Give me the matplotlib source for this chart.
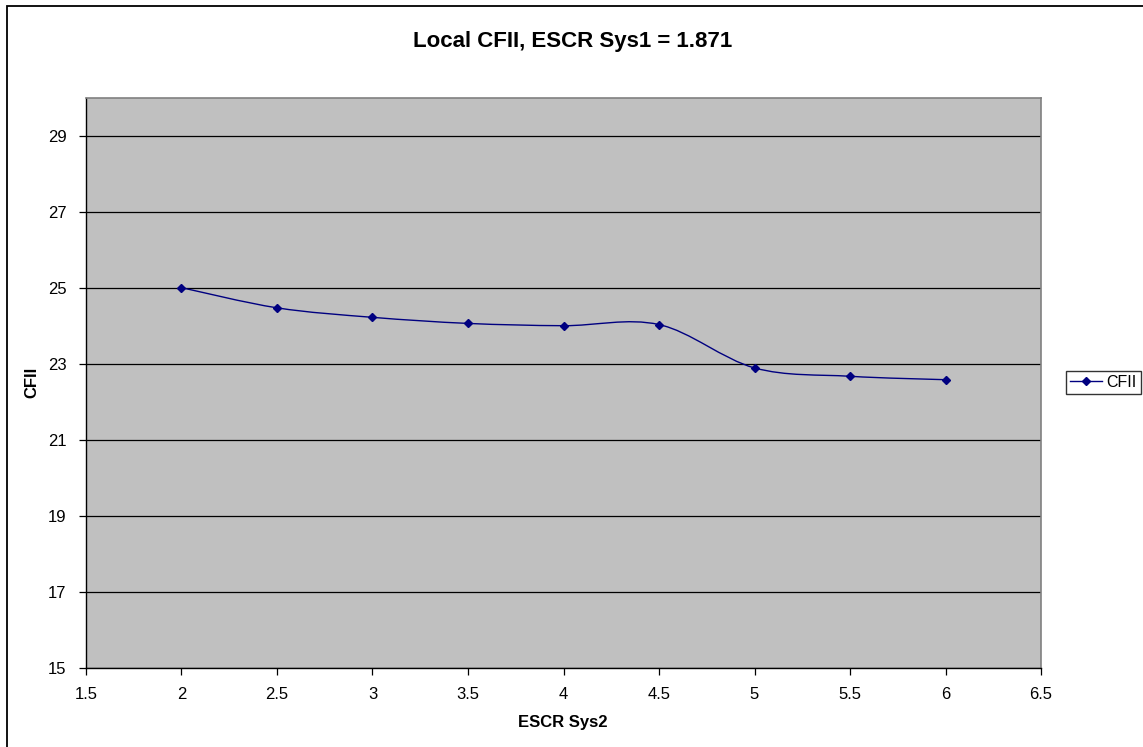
import matplotlib.pyplot as plt
import numpy as np
from matplotlib.path import Path
from matplotlib.patches import PathPatch, Rectangle
from matplotlib.lines import Line2D

plt.rcParams['font.family'] = ['Liberation Sans', 'DejaVu Sans']

escr_sys2 = [2.0, 2.5, 3.0, 3.5, 4.0, 4.5, 5.0, 5.5, 6.0]
cfii = [25.0, 24.47, 24.22, 24.06, 24.0, 24.03, 22.89, 22.67, 22.58]
x_ticks = [1.5, 2, 2.5, 3, 3.5, 4, 4.5, 5, 5.5, 6, 6.5]
y_ticks = [15, 17, 19, 21, 23, 25, 27, 29]

navy = '#000080'

fig = plt.figure(figsize=(11.43, 7.47), dpi=100)

# chart border (right and bottom edges run off the canvas)
fig.patches.append(Rectangle((7 / 1143, -0.1), 1.2, 1 - 5.5 / 747 + 0.1,
                             transform=fig.transFigure, fill=False,
                             edgecolor='black', linewidth=1.3))

ax = fig.add_axes([86 / 1143, 79 / 747, 955 / 1143, 570.5 / 747])
ax.set_facecolor('#c0c0c0')
ax.set_xlim(1.5, 6.5)
ax.set_ylim(15, 30)
ax.set_xticks(x_ticks)
ax.set_xticklabels(['1.5', '2', '2.5', '3', '3.5', '4', '4.5', '5', '5.5', '6', '6.5'])
ax.set_yticks(y_ticks)
ax.yaxis.grid(True, color='black', linewidth=0.9)
ax.set_axisbelow(True)
ax.tick_params(direction='out', length=5, width=0.9, labelsize=12, colors='black')
ax.tick_params(axis='x', pad=9)
ax.tick_params(axis='y', pad=9)

for side in ('left', 'bottom'):
    ax.spines[side].set_color('black')
    ax.spines[side].set_linewidth(1.0)
for side in ('top', 'right'):
    ax.spines[side].set_color('#808080')
    ax.spines[side].set_linewidth(1.2)

# smoothed line through the points (cubic Bezier segments, Catmull-Rom style)
pts = np.column_stack([escr_sys2, cfii])
verts = [pts[0]]
codes = [Path.MOVETO]
n = len(pts)
for i in range(n - 1):
    p0 = pts[max(i - 1, 0)]
    p1 = pts[i]
    p2 = pts[i + 1]
    p3 = pts[min(i + 2, n - 1)]
    c1 = p1 + (p2 - p0) / 6
    c2 = p2 - (p3 - p1) / 6
    verts += [c1, c2, p2]
    codes += [Path.CURVE4] * 3
ax.add_patch(PathPatch(Path(verts, codes), facecolor='none', edgecolor=navy, linewidth=1.0))
ax.plot(escr_sys2, cfii, linestyle='none', marker='D', markersize=4.5, color=navy)

fig.text(573 / 1143, 1 - 42 / 747, 'Local CFII, ESCR Sys1 = 1.871', ha='center', va='center',
         fontsize=16, fontweight='bold')
fig.text(563 / 1143, 1 - 723 / 747, 'ESCR Sys2', ha='center', va='center',
         fontsize=12, fontweight='bold')
fig.text(32 / 1143, 1 - 382 / 747, 'CFII', ha='center', va='center', rotation=90,
         fontsize=12, fontweight='bold')

handle = Line2D([], [], color=navy, linewidth=1.0, marker='D', markersize=4.5)
leg = fig.legend([handle], ['CFII'], loc='center left', bbox_to_anchor=(1066 / 1143, 1 - 382.5 / 747),
                 frameon=True, fancybox=False, fontsize=11.5, handlelength=2.0, handletextpad=0.3,
                 borderpad=0.25, borderaxespad=0)
leg.get_frame().set_edgecolor('black')
leg.get_frame().set_linewidth(1.0)

fig.savefig('out.png', dpi=100)
